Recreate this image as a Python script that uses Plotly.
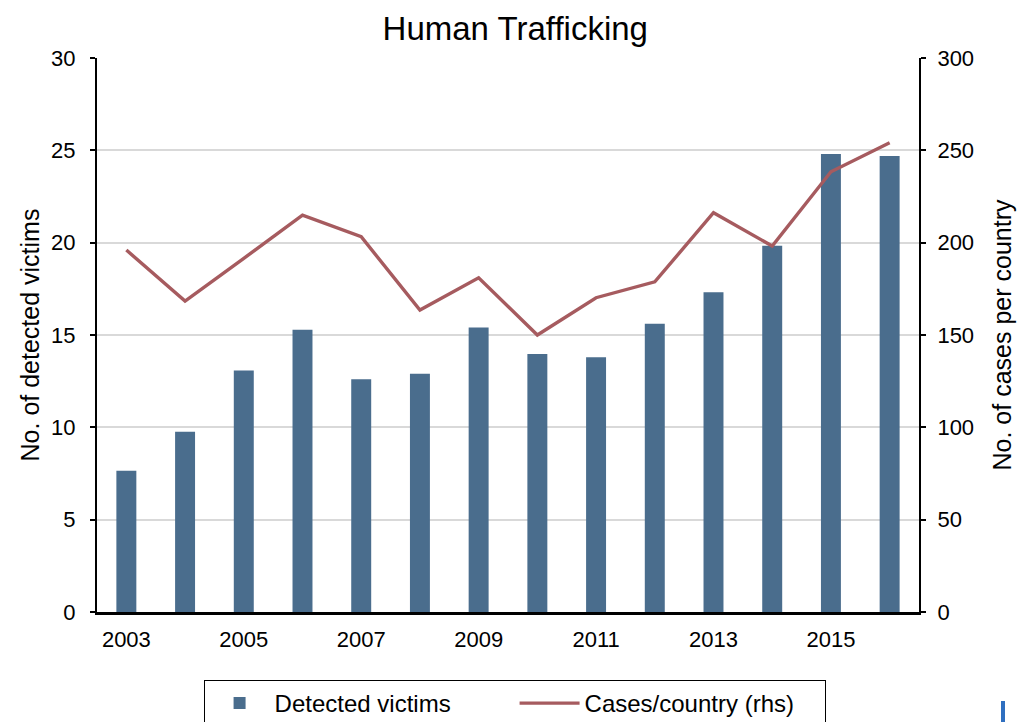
import plotly.graph_objects as go

years = list(range(2003, 2017))
detected_victims = [7.65, 9.76, 13.08, 15.28, 12.6, 12.9, 15.41, 13.97, 13.79, 15.61, 17.31, 19.83, 24.8, 24.69]
cases_per_country = [196, 168.4, 191.5, 214.9, 203.2, 163.5, 181, 150, 170.2, 178.8, 216.2, 198.2, 238.4, 254.1]
left_ticks = [0, 5, 10, 15, 20, 25, 30]
right_ticks = [0, 50, 100, 150, 200, 250, 300]
x_ticks = [2003, 2005, 2007, 2009, 2011, 2013, 2015]

FONT = "Liberation Sans, Arial, sans-serif"
BAR_COLOR = "#4A6D8D"
LINE_COLOR = "#A65B5F"

fig = go.Figure()
fig.add_trace(go.Bar(
    x=years, y=detected_victims, name="Detected victims",
    marker=dict(color=BAR_COLOR, line=dict(width=0)), width=0.34,
))
fig.add_trace(go.Scatter(
    x=years, y=cases_per_country, name="Cases/country (rhs)", mode="lines",
    line=dict(color=LINE_COLOR, width=3.4), yaxis="y2",
))

# page body adds an 8px offset; margins compensate
fig.update_layout(
    width=1031, height=722,
    margin=dict(l=89, r=120, t=50, b=118, autoexpand=False),
    paper_bgcolor="white", plot_bgcolor="white",
    font=dict(family=FONT, size=22, color="black"),
    title=dict(text="Human Trafficking", x=0.492, xanchor="center", y=0.972, yanchor="middle",
               font=dict(family=FONT, size=33, color="black")),
    showlegend=True,
    legend=dict(orientation="h", x=0.508, xanchor="center", y=-0.1227, yanchor="top",
                bordercolor="black", borderwidth=1, bgcolor="white",
                font=dict(family=FONT, size=24, color="black"),
                entrywidth=235, itemwidth=60),
    xaxis=dict(
        range=[2002.5, 2016.5], tickmode="array", tickvals=x_ticks,
        ticktext=[str(v) for v in x_ticks], showgrid=False, zeroline=False,
        showline=True, linecolor="black", linewidth=3, ticks="", ticklabelstandoff=6,
        tickfont=dict(family=FONT, size=22), automargin=False,
    ),
    yaxis=dict(
        range=[0, 30], tickmode="array", tickvals=left_ticks, showgrid=True,
        gridcolor="#D9D9D9", gridwidth=2, zeroline=False, showline=True,
        linecolor="black", linewidth=2, ticks="outside", ticklen=5, tickcolor="black",
        tickwidth=2, ticklabelstandoff=10, tickfont=dict(family=FONT, size=22),
        automargin=False,
        title=dict(text="No. of detected victims", font=dict(family=FONT, size=25), standoff=4),
    ),
    yaxis2=dict(
        range=[0, 300], tickmode="array", tickvals=right_ticks, overlaying="y", side="right",
        showgrid=False, zeroline=False, showline=True, linecolor="black", linewidth=2,
        ticks="outside", ticklen=5, tickcolor="black", tickwidth=2, ticklabelstandoff=7,
        tickfont=dict(family=FONT, size=22), automargin=False,
        title=dict(text="No. of cases per country", font=dict(family=FONT, size=25), standoff=20),
    ),
    bargap=0.66,
)

fig.add_shape(type="rect", xref="paper", yref="paper",
              x0=(1001 - 97) / 822, x1=(1005 - 97) / 822,
              y0=-(701 - 612) / 554, y1=-(722 - 612) / 554,
              fillcolor="#2F6FC0", line=dict(width=0))

fig.write_html("out.html")
